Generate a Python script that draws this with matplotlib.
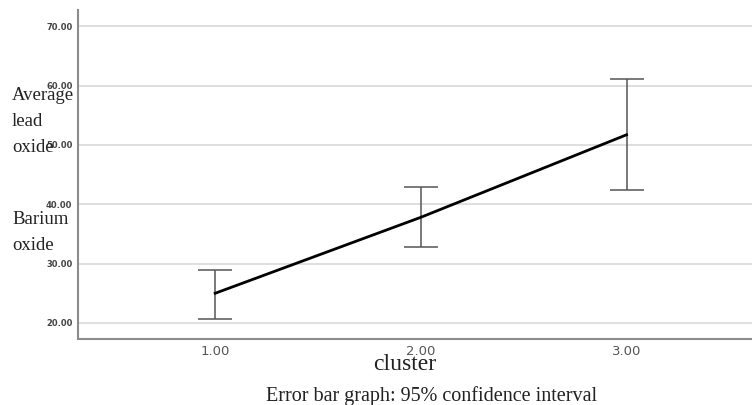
import matplotlib.pyplot as plt

# cluster means with 95% CI bounds
clusters = [1.0, 2.0, 3.0]
means = [25.0, 37.8, 51.7]
ci_low = [20.7, 32.8, 42.4]
ci_high = [28.9, 42.9, 61.1]
yticks = [20, 30, 40, 50, 60, 70]

fig = plt.figure(figsize=(7.52, 4.05), dpi=100)
ax = fig.add_axes([0.1037, 0.163, 0.8963, 0.812])

err = [[m - lo for m, lo in zip(means, ci_low)],
       [hi - m for m, hi in zip(means, ci_high)]]
ax.errorbar(clusters, means, yerr=err, fmt='none', ecolor='#555555',
            elinewidth=1.1, capsize=12, capthick=1.1, zorder=3)
ax.plot(clusters, means, color='black', linewidth=2, zorder=4)

ax.set_xlim(0.333, 3.61)
ax.set_ylim(17.3, 72.7)
ax.set_yticks(yticks)
ax.set_yticklabels([f"{v:.2f}" for v in yticks], fontsize=6,
                   color='#444444', fontweight='bold')
ax.set_xticks(clusters)
ax.set_xticklabels([f"{v:.2f}" for v in clusters], fontsize=9.5, color='#555555')
ax.tick_params(length=0, pad=4)
ax.yaxis.grid(True, color='#d9d9d9', linewidth=1.2)
ax.set_axisbelow(True)

for s in ['top', 'right']:
    ax.spines[s].set_visible(False)
for s in ['left', 'bottom']:
    ax.spines[s].set_color('#8c8c8c')
    ax.spines[s].set_linewidth(1.5)

serif = 'Liberation Serif'
# y-axis label written as stacked words on the left
for txt, y in [("Average", 95), ("lead", 121), ("oxide", 148),
               ("Barium", 220), ("oxide", 245)]:
    fig.text(12 / 752, 1 - y / 405, txt, family=serif, fontsize=13.5,
             va='center', ha='left', color='#222222')

fig.text(405 / 752, 1 - 364 / 405, "cluster", family=serif, fontsize=17,
         ha='center', va='center', color='#222222')
fig.text(432 / 752, 1 - 396 / 405, "Error bar graph: 95% confidence interval",
         family=serif, fontsize=14.5, ha='center', va='center', color='#222222')

fig.savefig('out.png', dpi=100)
